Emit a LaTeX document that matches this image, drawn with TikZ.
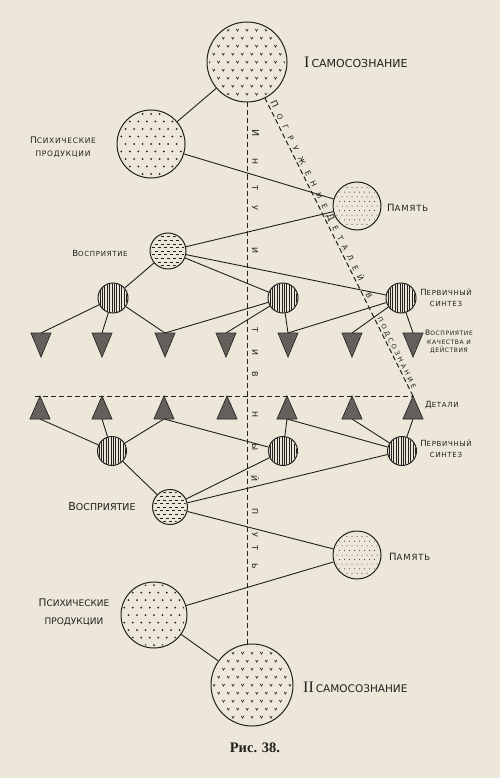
\documentclass[tikz,border=0pt]{standalone}
\usepackage{fontspec}
\setmainfont{DejaVu Sans}
\newfontfamily\lab{DejaVu Sans}
\newfontfamily\labw[LetterSpace=10]{DejaVu Sans}
\newfontfamily\capfont{Liberation Serif}
\usetikzlibrary{calc,decorations.text,patterns}
\definecolor{paper}{RGB}{236,231,217}
\definecolor{ink}{RGB}{34,32,30}
\definecolor{trifill}{RGB}{110,106,100}
\newcommand\sk[4]{{\fontsize{#1}{#1}\selectfont #3}{\fontsize{#2}{#2}\selectfont #4}}

% v-marks (self-consciousness)
\newcommand\patV[2]{%
\begin{scope}[shift={(#1.center)}]
\clip (0,0) circle[radius=#2pt];
\foreach \r in {-6,...,6}{\foreach \c in {-6,...,6}{%
 \pgfmathsetmacro\xx{\c*9.5+mod(\r+20,2)*4.75}%
 \draw[ink,line width=0.6pt] (\xx,\r*8) ++(-1.2,-1.1) -- ++(1.2,2.2) -- ++(1.2,-2.2);}}
\end{scope}}
% dots
\newcommand\patDots[5]{%
\begin{scope}[shift={(#1.center)}]
\clip (0,0) circle[radius=#2pt];
\foreach \r in {-8,...,8}{\foreach \c in {-8,...,8}{%
 \pgfmathsetmacro\xx{\c*#3+mod(\r+20,2)*#3/2}%
 \fill[ink] (\xx,\r*#4) circle[radius=#5pt];}}
\end{scope}}
% short horizontal dashes
\newcommand\patH[2]{%
\begin{scope}[shift={(#1.center)}]
\clip (0,0) circle[radius=#2pt];
\foreach \r in {-5,...,5}{\foreach \c in {-4,...,4}{%
 \pgfmathsetmacro\xx{\c*6+mod(\r+20,2)*3}%
 \draw[ink,line width=0.5pt] (\xx-1.5,\r*3.6) -- ++(3,0);}}
\end{scope}}
% vertical lines
\newcommand\patL[2]{%
\begin{scope}[shift={(#1.center)}]
\clip (0,0) circle[radius=#2pt];
\foreach \x in {-15.6,-13.2,...,16}{\draw[ink,line width=0.5pt] (\x,-17) -- (\x,17);}
\end{scope}}

\tikzset{
  every node/.style={text=ink},
  circ/.style={circle, draw=ink, line width=1pt, inner sep=0pt, minimum size=#1},
  con/.style={draw=ink, line width=0.9pt},
  dashln/.style={draw=ink, line width=1pt, dash pattern=on 5pt off 3pt},
  lbl/.style={inner sep=0pt, align=center},
  trishape/.style={draw=ink, line width=0.7pt, fill=trifill},
  trihatch/.style={pattern=north east lines, pattern color=ink!80},
  vlet/.style={font=\lab\fontsize{8}{8}\selectfont, rotate=-90, inner sep=0pt},
  dtext/.style={decorate, decoration={text along path, text color=ink, text align=fit to path, raise=2.5pt, text={#1}}},
}

\begin{document}
\begin{tikzpicture}[x=1pt,y=-1pt]
\fill[paper] (0,0) rectangle (500,778);
\useasboundingbox (0,0) rectangle (500,778);

% ---------- circles ----------
\node[circ=80pt] (s1) at (247,62) {};
\node[circ=68pt] (p1) at (151,144) {};
\node[circ=48pt] (m1) at (357,206) {};
\node[circ=36pt] (v1) at (168,251) {};
\node[circ=30pt] (a1) at (113,298) {};
\node[circ=30pt] (a2) at (283,298) {};
\node[circ=30pt] (a3) at (401,298) {};
\node[circ=29pt] (b1) at (112,451) {};
\node[circ=29pt] (b2) at (283,451) {};
\node[circ=29pt] (b3) at (402,451) {};
\node[circ=35pt] (v2) at (170,507) {};
\node[circ=48pt] (m2) at (357,555) {};
\node[circ=66pt] (p2) at (154,615) {};
\node[circ=82pt] (s2) at (252,685) {};

\patV{s1}{38}
\patV{s2}{39}
\patDots{p1}{32.5}{8.5}{7.5}{1}
\patDots{p2}{31.5}{8.5}{7.5}{1}
\patDots{m1}{22.5}{5}{4.6}{0.5}
\patDots{m2}{22.5}{5}{4.6}{0.5}
\patH{v1}{16.5}
\patH{v2}{16}
\patL{a1}{14.5}\patL{a2}{14.5}\patL{a3}{14.5}
\patL{b1}{14}\patL{b2}{14}\patL{b3}{14}

% ---------- triangle anchor points ----------
\foreach \i/\x in {1/41,2/102,3/165,4/226,5/288,6/352,7/413}{\coordinate (t\i) at (\x,333);}
\foreach \i/\x in {1/40,2/102,3/164,4/227,5/287,6/352,7/413}{\coordinate (u\i) at (\x,419);}
\coordinate (u7a) at (413,396);
\coordinate (hl) at (35,396);
\coordinate (dA) at ($(s1.center)!40pt!(u7a)$);

% ---------- dashed guide lines ----------
\draw[dashln] (s1.south) -- (s1.south |- s2.north);
\draw[dashln] (dA) -- (u7a);
\draw[dashln] (hl) -- (u7a);

% ---------- connectors ----------
\draw[con] (s1) -- (p1);
\draw[con] (p1) -- (m1);
\draw[con] (m1) -- (v1);
\draw[con] (v1) -- (a1);
\draw[con] (v1) -- (a2);
\draw[con] (v1) -- (a3);
\draw[con] (a1) -- (t1); \draw[con] (a1) -- (t2); \draw[con] (a1) -- (t3);
\draw[con] (a2) -- (t3); \draw[con] (a2) -- (t4); \draw[con] (a2) -- (t5);
\draw[con] (a3) -- (t5); \draw[con] (a3) -- (t6); \draw[con] (a3) -- (t7);
\draw[con] (u1) -- (b1); \draw[con] (u2) -- (b1); \draw[con] (u3) -- (b1);
\draw[con] (u3) -- (b2); \draw[con] (u5) -- (b2);
\draw[con] (u5) -- (b3); \draw[con] (u6) -- (b3); \draw[con] (u7) -- (b3);
\draw[con] (b1) -- (v2);
\draw[con] (v2) -- (b2);
\draw[con] (v2) -- (b3);
\draw[con] (v2) -- (m2);
\draw[con] (m2) -- (p2);
\draw[con] (p2) -- (s2);

% ---------- triangles ----------
\foreach \i in {1,...,7}{
  \filldraw[trishape] (t\i) ++(-10,0) -- ++(20,0) -- ++(-10,24) -- cycle;
  \fill[trihatch] (t\i) ++(-10,0) -- ++(20,0) -- ++(-10,24) -- cycle;
  \filldraw[trishape] (u\i) ++(-10,0) -- ++(20,0) -- ++(-10,-23) -- cycle;
  \fill[trihatch] (u\i) ++(-10,0) -- ++(20,0) -- ++(-10,-23) -- cycle;
}

% ---------- labels ----------
\node[lbl, anchor=west] (ls1) at (304,62) {{\capfont\fontsize{16}{16}\selectfont I}\hspace{2pt}{\lab\fontsize{11}{11}\selectfont САМОСОЗНАНИЕ}};
\node[lbl, anchor=west] (ls2) at (303,687) {{\capfont\fontsize{16}{16}\selectfont II}\hspace{2pt}{\lab\fontsize{10.5}{10.5}\selectfont САМОСОЗНАНИЕ}};
\node[lbl, font=\labw\fontsize{7.5}{13}\selectfont] (lp1) at (63,147) {\sk{9}{7.5}{П}{СИХИЧЕСКИЕ}\\ПРОДУКЦИИ};
\node[lbl, font=\lab\fontsize{9}{18}\selectfont] (lp2) at (74,612) {\sk{10.5}{9}{П}{СИХИЧЕСКИЕ}\\ПРОДУКЦИИ};
\node[lbl, anchor=west, font=\labw\fontsize{8.5}{9}\selectfont] (lm1) at (387,208) {\sk{10}{8.5}{П}{АМЯТЬ}};
\node[lbl, anchor=west, font=\labw\fontsize{8.5}{9}\selectfont] (lm2) at (389,557) {\sk{10}{8.5}{П}{АМЯТЬ}};
\node[lbl, font=\labw\fontsize{7}{8}\selectfont] (lv1) at (100,253) {\sk{8.5}{7}{В}{ОСПРИЯТИЕ}};
\node[lbl, font=\lab\fontsize{9.5}{10}\selectfont] (lv2) at (102,507) {\sk{11}{9.5}{В}{ОСПРИЯТИЕ}};
\node[lbl, font=\labw\fontsize{7}{11}\selectfont] (la) at (446,298) {\sk{8.5}{7}{П}{ЕРВИЧНЫЙ}\\СИНТЕЗ};
\node[lbl, font=\labw\fontsize{7}{11}\selectfont] (lb) at (446,449) {\sk{8.5}{7}{П}{ЕРВИЧНЫЙ}\\СИНТЕЗ};
\node[lbl, font=\labw\fontsize{6}{8.5}\selectfont] (lq) at (449,342) {\sk{7.5}{6}{В}{ОСПРИЯТИЕ}\\КАЧЕСТВА И\\ДЕЙСТВИЯ};
\node[lbl, anchor=west, font=\labw\fontsize{7}{8}\selectfont] (ld) at (425,405) {\sk{8.5}{7}{Д}{ЕТАЛИ}};

% vertical text
\node[vlet, font=\lab\fontsize{9.5}{9.5}\selectfont] (vl133) at (255.5,133) {И};
\foreach \yy/\ch in {162/Н,188/Т,208/У,250/И,330/Т,352/И,374/В,415/Н,447/Ы,478/Й,512/П,535/У,548/Т,566/Ь}{
  \node[vlet] (vl\yy) at (255,\yy) {\ch};
}

% diagonal text
\path[dtext={|\lab\fontsize{9}{9}\selectfont|П|\lab\fontsize{7.5}{7.5}\selectfont|ОГРУЖЕНИЕ}]
  ($(dA)!0.02!(u7a)$) -- ($(dA)!0.38!(u7a)$);
\path[dtext={|\lab\fontsize{9}{9}\selectfont|Д|\lab\fontsize{7.5}{7.5}\selectfont|ЕТАЛЕЙ В}]
  ($(dA)!0.40!(u7a)$) -- ($(dA)!0.68!(u7a)$);
\path[dtext={|\lab\fontsize{6.5}{6.5}\selectfont|ПОДСОЗНАНИЕ}]
  ($(dA)!0.745!(u7a)$) -- ($(dA)!0.98!(u7a)$);

\node[font=\capfont\bfseries\fontsize{14.5}{14.5}\selectfont] (cap) at (255,748) {Рис. 38.};
\end{tikzpicture}
\end{document}
